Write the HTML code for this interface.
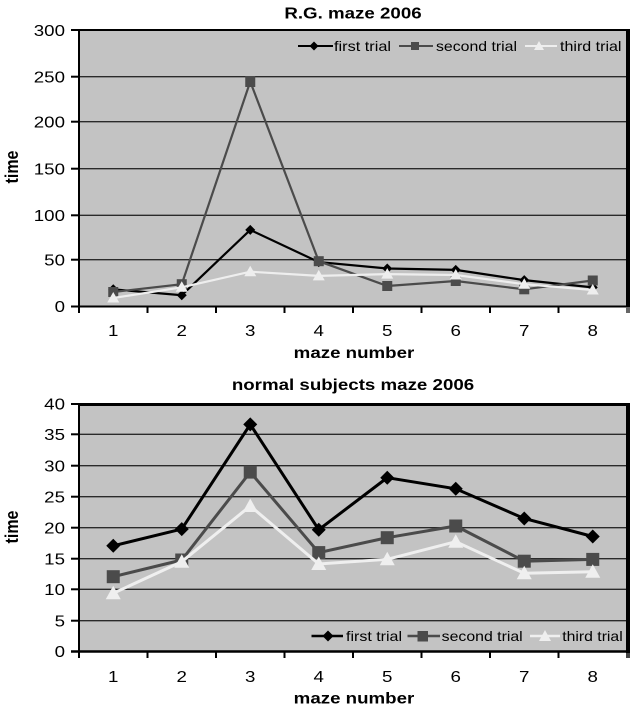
<!DOCTYPE html>
<html><head><meta charset="utf-8"><style>
html,body{margin:0;padding:0;background:#fff;}
svg{display:block;}
text{font-family:"Liberation Sans",Arial,sans-serif;fill:#000;}
.t{font-size:16px;}
.b{font-size:16px;font-weight:bold;}
.l{font-size:14px;}
</style></head><body>
<svg width="630" height="709" viewBox="0 0 630 709">
<!-- ============ TOP CHART ============ -->
<rect x="79" y="30" width="548" height="276.3" fill="#c3c3c3"/>
<g stroke="#2a2a2a" stroke-width="1.4">
<line x1="79" y1="76.7" x2="627" y2="76.7"/>
<line x1="79" y1="121.7" x2="627" y2="121.7"/>
<line x1="79" y1="168.7" x2="627" y2="168.7"/>
<line x1="79" y1="215.3" x2="627" y2="215.3"/>
<line x1="79" y1="259.7" x2="627" y2="259.7"/>
</g>
<g stroke="#000" stroke-width="2">
<line x1="78" y1="30" x2="628" y2="30"/>
<line x1="79" y1="29" x2="79" y2="307"/>
<line x1="71" y1="306.5" x2="627" y2="306.5"/>
<line x1="71" y1="30" x2="79" y2="30"/>
<line x1="71" y1="76.7" x2="79" y2="76.7"/>
<line x1="71" y1="121.7" x2="79" y2="121.7"/>
<line x1="71" y1="168.7" x2="79" y2="168.7"/>
<line x1="71" y1="215.3" x2="79" y2="215.3"/>
<line x1="71" y1="259.7" x2="79" y2="259.7"/>
<line x1="79" y1="306" x2="79" y2="313"/>
<line x1="147.5" y1="306" x2="147.5" y2="313"/>
<line x1="216" y1="306" x2="216" y2="313"/>
<line x1="284.5" y1="306" x2="284.5" y2="313"/>
<line x1="353" y1="306" x2="353" y2="313"/>
<line x1="421.5" y1="306" x2="421.5" y2="313"/>
<line x1="490" y1="306" x2="490" y2="313"/>
<line x1="558.5" y1="306" x2="558.5" y2="313"/>
</g>
<rect x="626" y="29" width="4" height="278" fill="#000"/>
<rect x="626" y="307" width="4" height="6" fill="#666"/>
<!-- y labels -->
<g class="t" text-anchor="end">
<text class="t" transform="translate(65,36) scale(1.17,1)">300</text>
<text class="t" transform="translate(65,82.5) scale(1.17,1)">250</text>
<text class="t" transform="translate(65,127.5) scale(1.17,1)">200</text>
<text class="t" transform="translate(65,174.5) scale(1.17,1)">150</text>
<text class="t" transform="translate(65,221) scale(1.17,1)">100</text>
<text class="t" transform="translate(65,265.5) scale(1.17,1)">50</text>
<text class="t" transform="translate(65,312) scale(1.17,1)">0</text>
</g>
<g text-anchor="middle">
<text class="t" transform="translate(113.25,336) scale(1.17,1)">1</text>
<text class="t" transform="translate(181.75,336) scale(1.17,1)">2</text>
<text class="t" transform="translate(250.25,336) scale(1.17,1)">3</text>
<text class="t" transform="translate(318.75,336) scale(1.17,1)">4</text>
<text class="t" transform="translate(387.25,336) scale(1.17,1)">5</text>
<text class="t" transform="translate(455.75,336) scale(1.17,1)">6</text>
<text class="t" transform="translate(524.25,336) scale(1.17,1)">7</text>
<text class="t" transform="translate(592.75,336) scale(1.17,1)">8</text>
<text class="b" transform="translate(354,358) scale(1.17,1)">maze number</text>
<text class="b" transform="translate(353,18.5) scale(1.17,1)">R.G. maze 2006</text>
<text class="b" transform="translate(18,167) scale(1.17,1) rotate(-90)">time</text>
</g>
<!-- series top -->
<polyline fill="none" stroke="#000" stroke-width="2.2" points="113.25,289.3 181.75,295.2 250.25,229.9 318.75,262.1 387.25,268.5 455.75,269.9 524.25,280.1 592.75,287.4"/>
<g fill="#000">
<polygon transform="translate(113.25,289.3)" points="0,-5 5,0 0,5 -5,0"/>
<polygon transform="translate(181.75,295.2)" points="0,-5 5,0 0,5 -5,0"/>
<polygon transform="translate(250.25,229.9)" points="0,-5 5,0 0,5 -5,0"/>
<polygon transform="translate(318.75,262.1)" points="0,-5 5,0 0,5 -5,0"/>
<polygon transform="translate(387.25,268.5)" points="0,-5 5,0 0,5 -5,0"/>
<polygon transform="translate(455.75,269.9)" points="0,-5 5,0 0,5 -5,0"/>
<polygon transform="translate(524.25,280.1)" points="0,-5 5,0 0,5 -5,0"/>
<polygon transform="translate(592.75,287.4)" points="0,-5 5,0 0,5 -5,0"/>
</g>
<polyline fill="none" stroke="#4b4b4b" stroke-width="2.2" points="113.25,292 181.75,284.2 250.25,81.6 318.75,261.2 387.25,286 455.75,281 524.25,289.3 592.75,280.5"/>
<g fill="#4b4b4b">
<rect x="108.25" y="287" width="10" height="10"/>
<rect x="176.75" y="279.2" width="10" height="10"/>
<rect x="245.25" y="76" width="10" height="11"/>
<rect x="313.75" y="256.2" width="10" height="10"/>
<rect x="382.25" y="281" width="10" height="10"/>
<rect x="450.75" y="276" width="10" height="10"/>
<rect x="519.25" y="284.3" width="10" height="10"/>
<rect x="587.75" y="275.5" width="10" height="10"/>
</g>
<polyline fill="none" stroke="#eeeeee" stroke-width="2.2" points="113.25,298 181.75,287.3 250.25,271.7 318.75,275.9 387.25,274.1 455.75,275 524.25,284.2 592.75,290"/>
<g fill="#eeeeee">
<polygon transform="translate(113.25,298)" points="0,-6 6,4.5 -6,4.5"/>
<polygon transform="translate(181.75,287.3)" points="0,-6 6,4.5 -6,4.5"/>
<polygon transform="translate(250.25,271.7)" points="0,-6 6,4.5 -6,4.5"/>
<polygon transform="translate(318.75,275.9)" points="0,-6 6,4.5 -6,4.5"/>
<polygon transform="translate(387.25,274.1)" points="0,-6 6,4.5 -6,4.5"/>
<polygon transform="translate(455.75,275)" points="0,-6 6,4.5 -6,4.5"/>
<polygon transform="translate(524.25,284.2)" points="0,-6 6,4.5 -6,4.5"/>
<polygon transform="translate(592.75,290)" points="0,-6 6,4.5 -6,4.5"/>
</g>
<!-- legend top -->
<line x1="298" y1="46" x2="333" y2="46" stroke="#000" stroke-width="2"/>
<polygon transform="translate(314,46)" points="0,-4.5 4.5,0 0,4.5 -4.5,0" fill="#000"/>
<text class="l" x="334" y="51" textLength="57" lengthAdjust="spacingAndGlyphs">first trial</text>
<line x1="399" y1="46" x2="433" y2="46" stroke="#4b4b4b" stroke-width="2"/>
<rect x="411" y="42" width="8" height="8" fill="#4b4b4b"/>
<text class="l" x="436" y="51" textLength="81" lengthAdjust="spacingAndGlyphs">second trial</text>
<line x1="525" y1="46" x2="557" y2="46" stroke="#eeeeee" stroke-width="2"/>
<polygon transform="translate(539,46)" points="0,-5 5,4 -5,4" fill="#eeeeee"/>
<text class="l" x="560" y="51" textLength="61.5" lengthAdjust="spacingAndGlyphs">third trial</text>

<!-- ============ BOTTOM CHART ============ -->
<rect x="79" y="404" width="548" height="247" fill="#c3c3c3"/>
<g stroke="#2a2a2a" stroke-width="1.4">
<line x1="79" y1="434.3" x2="627" y2="434.3"/>
<line x1="79" y1="465.7" x2="627" y2="465.7"/>
<line x1="79" y1="496.7" x2="627" y2="496.7"/>
<line x1="79" y1="527.7" x2="627" y2="527.7"/>
<line x1="79" y1="558.7" x2="627" y2="558.7"/>
<line x1="79" y1="589.3" x2="627" y2="589.3"/>
<line x1="79" y1="620.7" x2="627" y2="620.7"/>
</g>
<g stroke="#000" stroke-width="2">
<line x1="78" y1="404.5" x2="628" y2="404.5" stroke-width="3"/>
<line x1="79" y1="403" x2="79" y2="652"/>
<line x1="71" y1="651.5" x2="627" y2="651.5" stroke-width="2.5"/>
<line x1="71" y1="404" x2="79" y2="404"/>
<line x1="71" y1="434.3" x2="79" y2="434.3"/>
<line x1="71" y1="465.7" x2="79" y2="465.7"/>
<line x1="71" y1="496.7" x2="79" y2="496.7"/>
<line x1="71" y1="527.7" x2="79" y2="527.7"/>
<line x1="71" y1="558.7" x2="79" y2="558.7"/>
<line x1="71" y1="589.3" x2="79" y2="589.3"/>
<line x1="71" y1="620.7" x2="79" y2="620.7"/>
<line x1="79" y1="651" x2="79" y2="658"/>
<line x1="147.5" y1="651" x2="147.5" y2="658"/>
<line x1="216" y1="651" x2="216" y2="658"/>
<line x1="284.5" y1="651" x2="284.5" y2="658"/>
<line x1="353" y1="651" x2="353" y2="658"/>
<line x1="421.5" y1="651" x2="421.5" y2="658"/>
<line x1="490" y1="651" x2="490" y2="658"/>
<line x1="558.5" y1="651" x2="558.5" y2="658"/>
</g>
<rect x="626" y="403" width="4" height="250" fill="#000"/>
<rect x="626" y="653" width="4" height="5" fill="#444"/>
<g text-anchor="end">
<text class="t" transform="translate(65,409.5) scale(1.17,1)">40</text>
<text class="t" transform="translate(65,440.2) scale(1.17,1)">35</text>
<text class="t" transform="translate(65,471.5) scale(1.17,1)">30</text>
<text class="t" transform="translate(65,502.5) scale(1.17,1)">25</text>
<text class="t" transform="translate(65,533.5) scale(1.17,1)">20</text>
<text class="t" transform="translate(65,564.5) scale(1.17,1)">15</text>
<text class="t" transform="translate(65,595.2) scale(1.17,1)">10</text>
<text class="t" transform="translate(65,626.5) scale(1.17,1)">5</text>
<text class="t" transform="translate(65,657) scale(1.17,1)">0</text>
</g>
<g text-anchor="middle">
<text class="t" transform="translate(113.25,682) scale(1.17,1)">1</text>
<text class="t" transform="translate(181.75,682) scale(1.17,1)">2</text>
<text class="t" transform="translate(250.25,682) scale(1.17,1)">3</text>
<text class="t" transform="translate(318.75,682) scale(1.17,1)">4</text>
<text class="t" transform="translate(387.25,682) scale(1.17,1)">5</text>
<text class="t" transform="translate(455.75,682) scale(1.17,1)">6</text>
<text class="t" transform="translate(524.25,682) scale(1.17,1)">7</text>
<text class="t" transform="translate(592.75,682) scale(1.17,1)">8</text>
<text class="b" transform="translate(354,703.5) scale(1.17,1)">maze number</text>
<text class="b" transform="translate(353,390) scale(1.17,1)">normal subjects maze 2006</text>
<text class="b" transform="translate(18,527) scale(1.17,1) rotate(-90)">time</text>
</g>
<!-- series bottom -->
<polyline fill="none" stroke="#000" stroke-width="3" points="113.25,545.8 181.75,529.1 250.25,424.4 318.75,529.7 387.25,477.7 455.75,488.8 524.25,518.5 592.75,536.5"/>
<g fill="#000">
<polygon transform="translate(113.25,545.8)" points="0,-7 7,0 0,7 -7,0"/>
<polygon transform="translate(181.75,529.1)" points="0,-7 7,0 0,7 -7,0"/>
<polygon transform="translate(250.25,424.4)" points="0,-7 7,0 0,7 -7,0"/>
<polygon transform="translate(318.75,529.7)" points="0,-7 7,0 0,7 -7,0"/>
<polygon transform="translate(387.25,477.7)" points="0,-7 7,0 0,7 -7,0"/>
<polygon transform="translate(455.75,488.8)" points="0,-7 7,0 0,7 -7,0"/>
<polygon transform="translate(524.25,518.5)" points="0,-7 7,0 0,7 -7,0"/>
<polygon transform="translate(592.75,536.5)" points="0,-7 7,0 0,7 -7,0"/>
</g>
<polyline fill="none" stroke="#4b4b4b" stroke-width="3" points="113.25,576.7 181.75,560 250.25,472.1 318.75,552.6 387.25,537.7 455.75,526 524.25,561.2 592.75,559.4"/>
<g fill="#4b4b4b">
<rect x="106.75" y="570.2" width="13" height="13"/>
<rect x="175.25" y="553.5" width="13" height="13"/>
<rect x="243.75" y="465.6" width="13" height="13"/>
<rect x="312.25" y="546.1" width="13" height="13"/>
<rect x="380.75" y="531.2" width="13" height="13"/>
<rect x="449.25" y="519.5" width="13" height="13"/>
<rect x="517.75" y="554.7" width="13" height="13"/>
<rect x="586.25" y="552.9" width="13" height="13"/>
</g>
<polyline fill="none" stroke="#efefef" stroke-width="3" points="113.25,593.3 181.75,561.7 250.25,506 318.75,564 387.25,559.3 455.75,541.7 524.25,573.3 592.75,571.7"/>
<g fill="#efefef">
<polygon transform="translate(113.25,593.3)" points="0,-7.5 7.5,6 -7.5,6"/>
<polygon transform="translate(181.75,561.7)" points="0,-7.5 7.5,6 -7.5,6"/>
<polygon transform="translate(250.25,506)" points="0,-7.5 7.5,6 -7.5,6"/>
<polygon transform="translate(318.75,564)" points="0,-7.5 7.5,6 -7.5,6"/>
<polygon transform="translate(387.25,559.3)" points="0,-7.5 7.5,6 -7.5,6"/>
<polygon transform="translate(455.75,541.7)" points="0,-7.5 7.5,6 -7.5,6"/>
<polygon transform="translate(524.25,573.3)" points="0,-7.5 7.5,6 -7.5,6"/>
<polygon transform="translate(592.75,571.7)" points="0,-7.5 7.5,6 -7.5,6"/>
</g>
<!-- legend bottom -->
<line x1="311.5" y1="636" x2="343" y2="636" stroke="#000" stroke-width="2.5"/>
<polygon transform="translate(328,636)" points="0,-5.5 5.5,0 0,5.5 -5.5,0" fill="#000"/>
<text class="l" x="346" y="641" textLength="56" lengthAdjust="spacingAndGlyphs">first trial</text>
<line x1="407.5" y1="636" x2="440" y2="636" stroke="#4b4b4b" stroke-width="2.5"/>
<rect x="417.5" y="631" width="10.5" height="10.5" fill="#4b4b4b"/>
<text class="l" x="441.7" y="641" textLength="81" lengthAdjust="spacingAndGlyphs">second trial</text>
<line x1="530" y1="636" x2="560" y2="636" stroke="#efefef" stroke-width="2.5"/>
<polygon transform="translate(545,636)" points="0,-6 6,5 -6,5" fill="#efefef"/>
<text class="l" x="562.3" y="641" textLength="60.4" lengthAdjust="spacingAndGlyphs">third trial</text>
</svg>
</body></html>
